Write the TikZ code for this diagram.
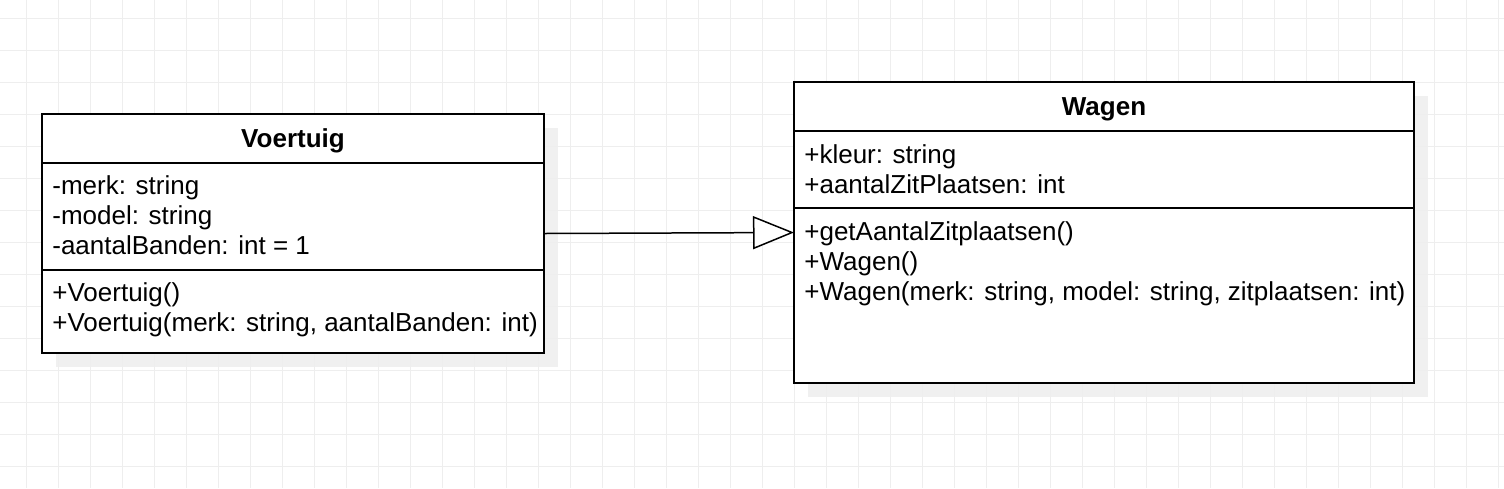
\documentclass[tikz,border=0pt]{standalone}
\usepackage{fontspec}
\setmainfont{Liberation Sans}
\usetikzlibrary{positioning, arrows.meta, backgrounds, calc}
\newcommand{\pxl}{0.02cm}
\definecolor{gridgray}{RGB}{238,238,238}
\definecolor{shadowgray}{RGB}{240,240,240}
\tikzset{
  compart/.style={draw, fill=white, line width=0.04cm, inner sep=0pt, outer sep=0pt, minimum width=#1},
  classname/.style={font=\fontsize{14.8}{17.07}\selectfont\bfseries, text depth=0pt},
  members/.style={font=\fontsize{14.8}{17.07}\selectfont, align=left, inner sep=0pt, anchor=base west},
  gridline/.style={gridgray, line width=0.02cm},
  inherit/.style={-{Triangle[open, fill=white, length=0.82cm, width=0.66cm]}, line width=0.03cm},
}
\begin{document}
\begin{tikzpicture}[x=\pxl, y=-\pxl]
    \useasboundingbox (0,0) rectangle (1504,488) ;
    \foreach \gx in {26.7,58.7,...,1504} \draw [gridline] (\gx,0) -- (\gx,488) ;
    \foreach \gy in {18.5,50.5,...,488} \draw [gridline] (0,\gy) -- (1504,\gy) ;

    % Voertuig
    \node [compart=502*\pxl, minimum height=49*\pxl, classname] (voertuigHead) at (293,138.5) {Voertuig} ;
    \node [compart=502*\pxl, minimum height=107*\pxl, below=0pt of voertuigHead] (voertuigAttr) {} ;
    \node [compart=502*\pxl, minimum height=83*\pxl, below=0pt of voertuigAttr] (voertuigOps) {} ;
    % base = laatste regel
    \node [members] (voertuigAttrTxt) at ([shift={(10,91)}]voertuigAttr.north west) {-merk: string\\-model: string\\-aantalBanden: int = 1} ;
    \node [members] (voertuigOpsTxt) at ([shift={(10,61)}]voertuigOps.north west) {+Voertuig()\\+Voertuig(merk: string, aantalBanden: int)} ;

    % Wagen
    \node [compart=620*\pxl, minimum height=49*\pxl, classname] (wagenHead) at (1104,106.5) {Wagen} ;
    \node [compart=620*\pxl, minimum height=77*\pxl, below=0pt of wagenHead] (wagenAttr) {} ;
    \node [compart=620*\pxl, minimum height=175*\pxl, below=0pt of wagenAttr] (wagenOps) {} ;
    \node [members] (wagenAttrTxt) at ([shift={(10,62)}]wagenAttr.north west) {+kleur: string\\+aantalZitPlaatsen: int} ;
    \node [members] (wagenOpsTxt) at ([shift={(10,92)}]wagenOps.north west) {+getAantalZitplaatsen()\\+Wagen()\\+Wagen(merk: string, model: string, zitplaatsen: int)} ;

    % shadows
    \begin{scope}[on background layer]
        \fill [shadowgray] ([shift={(14,14)}]voertuigHead.north west) rectangle ([shift={(14,14)}]voertuigOps.south east) ;
        \fill [shadowgray] ([shift={(14,14)}]wagenHead.north west) rectangle ([shift={(14,14)}]wagenOps.south east) ;
    \end{scope}

    % overerving
    \coordinate (voertuigE) at ($(voertuigHead.north east)!0.5!(voertuigOps.south east)$) ;
    \coordinate (wagenW) at ($(wagenHead.north west)!0.5!(wagenOps.south west)$) ;
    \draw [inherit] (voertuigE) -- (wagenW) ;
\end{tikzpicture}
\end{document}
